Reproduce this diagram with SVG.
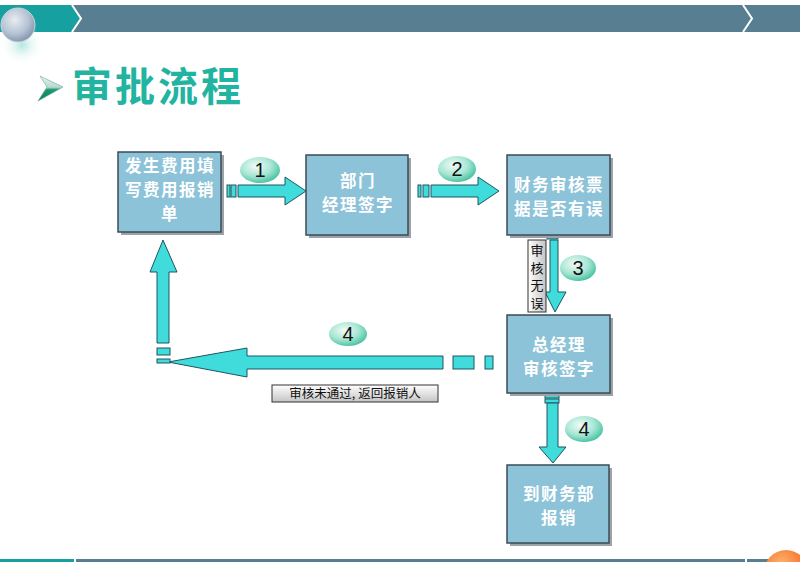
<svg xmlns="http://www.w3.org/2000/svg" width="800" height="562" viewBox="0 0 800 562">
<defs>
<radialGradient id="ballGrad" cx="0.4" cy="0.35" r="0.7">
<stop offset="0" stop-color="#e6ecf2"/>
<stop offset="0.6" stop-color="#b4c2d2"/>
<stop offset="1" stop-color="#7d8fa8"/>
</radialGradient>
<radialGradient id="glow" cx="0.5" cy="0.5" r="0.5">
<stop offset="0" stop-color="#9fe0d8" stop-opacity="0.8"/>
<stop offset="1" stop-color="#ffffff" stop-opacity="0"/>
</radialGradient>
<radialGradient id="numGrad" cx="0.4" cy="0.35" r="0.7">
<stop offset="0" stop-color="#f2fbf8"/>
<stop offset="0.55" stop-color="#a8e6d4"/>
<stop offset="1" stop-color="#3ebf9c"/>
</radialGradient>
<linearGradient id="lblGrad" x1="0" y1="0" x2="0" y2="1">
<stop offset="0" stop-color="#ffffff"/>
<stop offset="1" stop-color="#c4c4c4"/>
</linearGradient>
<linearGradient id="lblGradH" x1="0" y1="0" x2="1" y2="0">
<stop offset="0" stop-color="#ffffff"/>
<stop offset="1" stop-color="#c4c4c4"/>
</linearGradient>
<radialGradient id="orange" cx="0.4" cy="0.3" r="0.7">
<stop offset="0" stop-color="#ffb070"/>
<stop offset="1" stop-color="#f06010"/>
</radialGradient>
<linearGradient id="titleArrow" x1="0" y1="0" x2="0" y2="1">
<stop offset="0" stop-color="#e8f4f0"/>
<stop offset="0.45" stop-color="#b8d8d0"/>
<stop offset="0.55" stop-color="#1a9a70"/>
<stop offset="1" stop-color="#0c7a58"/>
</linearGradient>
</defs>
<style>
.node rect.box{fill:#8cc3d8;stroke:#3b4b58;stroke-width:1.5}
.node rect.sh{fill:#9ca3a8}
.node text{fill:#ffffff;font-family:"Noto Sans CJK SC","Noto Sans CJK JP",sans-serif;font-size:16.5px;font-weight:bold;letter-spacing:1.5px;text-anchor:middle}
.arr{fill:#40dcdc;stroke:#1f5560;stroke-width:1}
.num ellipse{fill:url(#numGrad)}
.num text{fill:#111;font-family:"Liberation Sans",Arial,sans-serif;font-size:20px;text-anchor:middle}
.lbl rect{stroke:#333;stroke-width:1}
.lbl text{fill:#111;font-family:"Noto Sans CJK SC",sans-serif;font-size:12.5px;text-anchor:middle}
.lbl text.vert{writing-mode:vertical-rl;text-anchor:start;font-size:13px;letter-spacing:4.5px}
</style>
<rect width="800" height="562" fill="#ffffff"/>
<!-- header -->
<g id="header">
<rect x="0" y="5" width="800" height="27" fill="#577f91"/>
<polygon points="0,5 72,5 81,18.5 72,32 0,32" fill="#17a0a0"/>
<polyline points="72,5 81,18.5 72,32" fill="none" stroke="#ffffff" stroke-width="2"/>
<polyline points="743,5 752,18.5 743,32" fill="none" stroke="#ffffff" stroke-width="2"/>
<ellipse cx="22" cy="45" rx="22" ry="20" fill="url(#glow)"/>
<circle cx="18" cy="25" r="17" fill="url(#ballGrad)" stroke="#c8d6e0" stroke-width="1"/>
</g>
<g id="footer">
<rect x="0" y="559" width="800" height="3" fill="#577f91"/>
<rect x="0" y="559" width="74" height="3" fill="#17a0a0"/>
<rect x="74" y="558" width="2" height="4" fill="#ffffff"/>
<rect x="745" y="558" width="2" height="4" fill="#ffffff"/>
<circle cx="786" cy="572" r="22" fill="url(#orange)"/>
</g>
<!-- title -->
<g id="title">
<polygon points="40,76 63,87 38,101 47,87" fill="url(#titleArrow)" stroke="#6aa898" stroke-width="0.6"/>
<text x="72" y="101" fill="#22b4a0" font-family="Noto Sans CJK SC,sans-serif" font-weight="bold" font-size="40" letter-spacing="3">审批流程</text>
</g>
<!-- connectors -->
<g id="connectors">
<rect class="arr" x="227" y="185" width="3" height="12"/>
<rect class="arr" x="231" y="185" width="5" height="12"/>
<polygon class="arr" points="238,185 285,185 285,177 306,191 285,205 285,197 238,197"/>
<rect class="arr" x="418" y="185" width="3" height="12"/>
<rect class="arr" x="423" y="185" width="6" height="12"/>
<polygon class="arr" points="431,185 478,185 478,177 499,191 478,205 478,197 431,197"/>
<rect class="arr" x="547" y="236" width="11" height="3"/>
<polygon class="arr" points="550,240 558,240 558,292 566,292 555,312 545,292 550,292"/>
<rect class="arr" x="485" y="356" width="8" height="13"/>
<rect class="arr" x="453" y="356" width="21" height="13"/>
<polygon class="arr" points="443,356 247,356 247,348 168,362 247,377 247,369 443,369"/>
<rect class="arr" x="157" y="348" width="13" height="7"/>
<rect class="arr" x="157" y="359" width="13" height="4"/>
<polygon class="arr" points="157,343 157,272 150,272 163,240 177,272 169,272 169,343"/>
<rect class="arr" x="545" y="395" width="14" height="3"/>
<rect class="arr" x="545" y="399" width="14" height="4"/>
<polygon class="arr" points="547,403 558,403 558,447 566,447 553,463 539,447 547,447"/>
</g>
<!-- labels -->
<g id="label-ok" class="lbl">
<rect x="528" y="240" width="18" height="72" fill="url(#lblGradH)"/>
<text class="vert" x="537" y="244">审核无误</text>
</g>
<g id="label-back" class="lbl">
<rect x="272" y="385" width="166" height="17" fill="url(#lblGrad)"/>
<text x="355" y="398">审核未通过, 返回报销人</text>
</g>
<!-- numbers -->
<g id="num1" class="num"><ellipse cx="260" cy="170" rx="20" ry="13"/><text x="260" y="177">1</text></g>
<g id="num2" class="num"><ellipse cx="457" cy="169" rx="19" ry="13"/><text x="457" y="176">2</text></g>
<g id="num3" class="num"><ellipse cx="578" cy="268" rx="18" ry="13"/><text x="578" y="275">3</text></g>
<g id="num4a" class="num"><ellipse cx="348" cy="334" rx="19" ry="12"/><text x="348" y="341">4</text></g>
<g id="num4b" class="num"><ellipse cx="584" cy="429" rx="19" ry="13"/><text x="584" y="436">4</text></g>
<!-- nodes -->
<g id="n1" class="node">
<rect class="sh" x="121" y="155" width="103" height="80"/>
<rect class="box" x="118" y="152" width="103" height="80"/>
<text x="170" y="172">发生费用填</text>
<text x="170" y="196">写费用报销</text>
<text x="170" y="220">单</text>
</g>
<g id="n2" class="node">
<rect class="sh" x="309" y="158" width="102" height="80"/>
<rect class="box" x="306" y="155" width="102" height="80"/>
<text x="358" y="187">部门</text>
<text x="358" y="211">经理签字</text>
</g>
<g id="n3" class="node">
<rect class="sh" x="510" y="158" width="103" height="80"/>
<rect class="box" x="507" y="155" width="103" height="80"/>
<text x="559" y="191">财务审核票</text>
<text x="559" y="215">据是否有误</text>
</g>
<g id="n4" class="node">
<rect class="sh" x="510" y="318" width="103" height="78"/>
<rect class="box" x="507" y="315" width="103" height="78"/>
<text x="559" y="351">总经理</text>
<text x="559" y="375">审核签字</text>
</g>
<g id="n5" class="node">
<rect class="sh" x="510" y="468" width="102" height="78"/>
<rect class="box" x="507" y="465" width="102" height="78"/>
<text x="559" y="500">到财务部</text>
<text x="559" y="524">报销</text>
</g>
</svg>
